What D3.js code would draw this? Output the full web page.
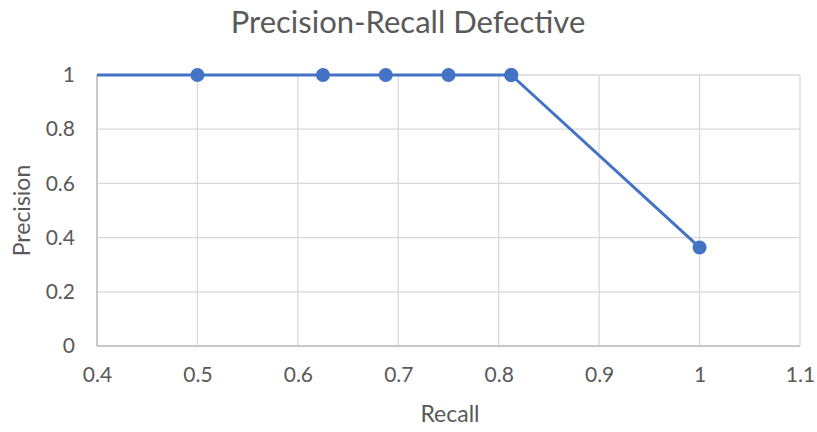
<!DOCTYPE html>
<html>
<head>
<meta charset="utf-8">
<script src="https://cdn.jsdelivr.net/npm/d3@7"></script>
<style>
  html, body { margin: 0; padding: 0; background: #fff; }
  svg { display: block; font-family: Lato, "Open Sans", sans-serif; }
</style>
</head>
<body>
<svg id="chart" width="817" height="432"></svg>
<script>
// Precision-recall curve points (recall, precision)
const recall    = [0, 0.5, 0.625, 0.6875, 0.75, 0.8125, 0.8125, 1.0];
const precision = [1, 1,   1,     1,      1,    1,      1,      0.3636];
const xTicks = [0.4, 0.5, 0.6, 0.7, 0.8, 0.9, 1, 1.1];
const yTicks = [0, 0.2, 0.4, 0.6, 0.8, 1];
const titleText = "Precision-Recall Defective";
const xLabel = "Recall";
const yLabel = "Precision";

const svg = d3.select("#chart");
const margin = { left: 97, right: 17, top: 75, bottom: 86 };
const W = 817, H = 432;

const x = d3.scaleLinear().domain([0.4, 1.1]).range([margin.left, W - margin.right]);
const y = d3.scaleLinear().domain([0, 1]).range([H - margin.bottom, margin.top]);

const textColor = "#595959";
const gridColor = "#d9d9d9";
const font = "Lato, 'Open Sans', sans-serif";

// Gridlines
svg.append("g").selectAll("line.h").data(yTicks).join("line")
  .attr("x1", x(0.4)).attr("x2", x(1.1))
  .attr("y1", d => y(d)).attr("y2", d => y(d))
  .attr("stroke", gridColor).attr("stroke-width", 1.3);
svg.append("g").selectAll("line.v").data(xTicks).join("line")
  .attr("x1", d => x(d)).attr("x2", d => x(d))
  .attr("y1", y(0)).attr("y2", y(1))
  .attr("stroke", gridColor).attr("stroke-width", 1.3);

// Axis lines
svg.append("line").attr("x1", x(0.4)).attr("x2", x(1.1)).attr("y1", y(0)).attr("y2", y(0))
  .attr("stroke", "#bfbfbf").attr("stroke-width", 1.5);
svg.append("line").attr("x1", x(0.4)).attr("x2", x(0.4)).attr("y1", y(0)).attr("y2", y(1))
  .attr("stroke", "#bfbfbf").attr("stroke-width", 1.5);

// Tick labels
const yAxis = d3.axisLeft(y).tickValues(yTicks).tickSize(0).tickPadding(22).tickFormat(d3.format("~g"));
const gy = svg.append("g").attr("transform", `translate(${x(0.4)},0)`).call(yAxis);
gy.select(".domain").remove();
gy.selectAll("text").attr("fill", textColor).style("font-size", "21px").style("font-family", font);

const xAxis = d3.axisBottom(x).tickValues(xTicks).tickSize(0).tickPadding(21).tickFormat(d3.format("~g"));
const gx = svg.append("g").attr("transform", `translate(0,${y(0)})`).call(xAxis);
gx.select(".domain").remove();
gx.selectAll("text").attr("fill", textColor).style("font-size", "21px").style("font-family", font);

// Clip to plot area
svg.append("clipPath").attr("id", "plot")
  .append("rect").attr("x", x(0.4)).attr("y", y(1) - 10)
  .attr("width", x(1.1) - x(0.4)).attr("height", y(0) - y(1) + 20);

const pts = recall.map((r, i) => ({ r, p: precision[i] }));
const line = d3.line().x(d => x(d.r)).y(d => y(d.p));

const plot = svg.append("g").attr("clip-path", "url(#plot)");
plot.append("path").datum(pts).attr("d", line)
  .attr("fill", "none").attr("stroke", "#4472C4").attr("stroke-width", 3)
  .attr("stroke-linejoin", "round");
plot.selectAll("circle").data(pts.filter(d => d.r >= 0.4)).join("circle")
  .attr("cx", d => x(d.r)).attr("cy", d => y(d.p)).attr("r", 7)
  .attr("fill", "#4472C4");

// Titles
svg.append("text").attr("x", 408).attr("y", 33).attr("text-anchor", "middle")
  .attr("fill", textColor).style("font-size", "31px").text(titleText);
svg.append("text").attr("x", 450).attr("y", 422).attr("text-anchor", "middle")
  .attr("fill", textColor).style("font-size", "23px").text(xLabel);
svg.append("text").attr("transform", `translate(30,${(y(0) + y(1)) / 2}) rotate(-90)`)
  .attr("text-anchor", "middle").attr("fill", textColor).style("font-size", "23px").text(yLabel);
</script>
</body>
</html>
